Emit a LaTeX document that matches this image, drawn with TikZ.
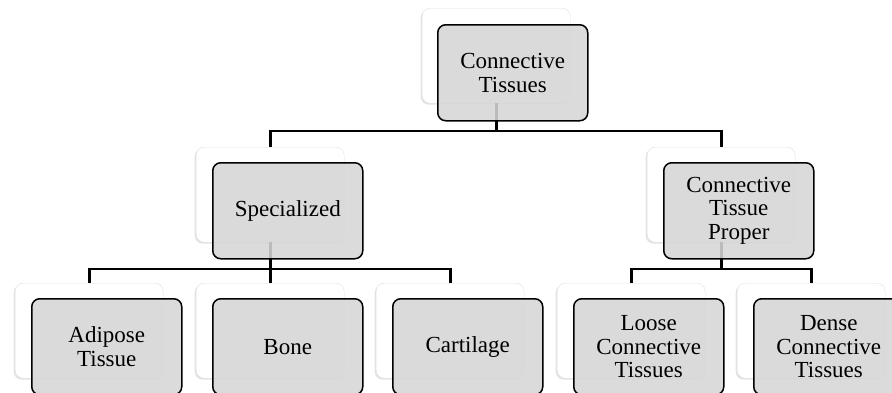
\documentclass[tikz,border=0pt]{standalone}
\usepackage{fontspec}
\setmainfont{Liberation Serif}
\usetikzlibrary{shadows}
\begin{document}
\begin{tikzpicture}[x=1pt,y=-1pt,
  backbox/.style={draw=black!12, fill=white, rounded corners=8pt,
    minimum width=148pt, minimum height=95pt, anchor=north west, inner sep=0pt,
    drop shadow={opacity=0.22, shadow xshift=-1.5pt, shadow yshift=-1.5pt}},
  frontbox/.style={draw=black, line width=1.5pt, fill=black!16, fill opacity=0.88,
    text opacity=1, rounded corners=8pt, minimum width=150pt, minimum height=96pt,
    anchor=north west, align=center, inner sep=0pt,
    font=\fontsize{23}{23.5}\selectfont},
  conn/.style={draw=black, line width=2.8pt}]
\useasboundingbox (0,0) rectangle (892,392);
% back boxes
\node[backbox] (tb) at (422,8) {};
\node[backbox] (sb) at (196,147) {};
\node[backbox] (pb) at (647,147) {};
\node[backbox] (ab) at (15,283) {};
\node[backbox] (bb) at (196,283) {};
\node[backbox] (cb) at (376,283) {};
\node[backbox] (lb) at (557,283) {};
\node[backbox] (db) at (737,283) {};
% connector levels
\coordinate (h1) at (0,131);
\coordinate (h2) at (0,269);
\draw[conn] (tb.south) -- (h1 -| tb.south);
\draw[conn] (sb.north) |- (h1 -| tb.south) -| (pb.north);
\draw[conn] (sb.south) -- (h2 -| sb.south);
\draw[conn] (ab.north) |- (h2 -| sb.south) -| (cb.north);
\draw[conn] (bb.north) -- (h2 -| bb.north);
\draw[conn] (pb.south) -- (h2 -| pb.south);
\draw[conn] (lb.north) |- (h2 -| pb.south) -| (db.north);
% front boxes
\node[frontbox] (t) at (437,24) {Connective\\Tissues};
\node[frontbox] (s) at (212,162) {Specialized};
\node[frontbox] (p) at (663,162) {Connective\\Tissue\\Proper};
\node[frontbox] (a) at (31,298) {Adipose\\Tissue};
\node[frontbox] (b) at (212,298) {Bone};
\node[frontbox] (c) at (392,298) {Cartilage};
\node[frontbox] (l) at (573,298) {Loose\\Connective\\Tissues};
\node[frontbox] (d) at (753,298) {Dense\\Connective\\Tissues};
\end{tikzpicture}
\end{document}
